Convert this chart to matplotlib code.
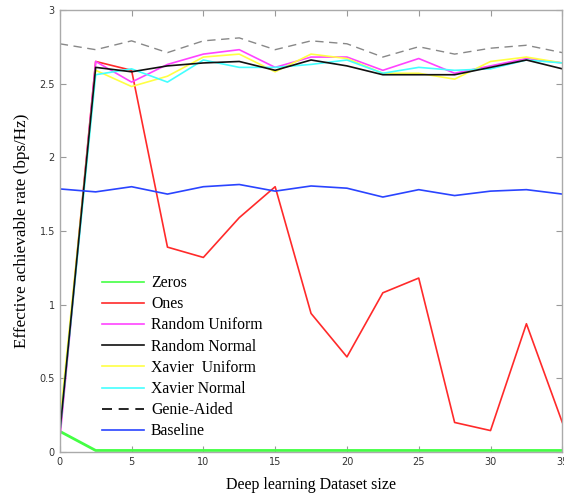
import matplotlib
matplotlib.use("Agg")
import matplotlib.pyplot as plt
import numpy as np

# dataset sizes
x = np.arange(0, 35.1, 2.5)

zeros = [0.14, 0.01, 0.01, 0.01, 0.01, 0.01, 0.01, 0.01, 0.01, 0.01, 0.01, 0.01, 0.01, 0.01, 0.01]
ones = [0.12, 2.65, 2.59, 1.39, 1.32, 1.59, 1.80, 0.94, 0.645, 1.08, 1.18, 0.20, 0.145, 0.87, 0.20]
rand_uniform = [0.08, 2.65, 2.51, 2.63, 2.70, 2.73, 2.61, 2.68, 2.68, 2.59, 2.67, 2.57, 2.62, 2.67, 2.64]
rand_normal = [0.13, 2.61, 2.58, 2.62, 2.64, 2.65, 2.59, 2.66, 2.62, 2.56, 2.56, 2.56, 2.61, 2.66, 2.60]
xav_uniform = [0.20, 2.59, 2.48, 2.55, 2.68, 2.70, 2.58, 2.70, 2.67, 2.57, 2.57, 2.53, 2.65, 2.68, 2.64]
xav_normal = [0.13, 2.56, 2.60, 2.51, 2.66, 2.61, 2.61, 2.63, 2.66, 2.57, 2.61, 2.59, 2.60, 2.66, 2.64]
genie = [2.77, 2.73, 2.79, 2.71, 2.79, 2.81, 2.73, 2.79, 2.77, 2.68, 2.75, 2.70, 2.74, 2.76, 2.71]
baseline = [1.785, 1.765, 1.80, 1.75, 1.80, 1.815, 1.77, 1.805, 1.79, 1.73, 1.78, 1.74, 1.77, 1.78, 1.75]

fig = plt.figure(figsize=(5.64, 4.95), dpi=100)
ax = fig.add_axes([0.106, 0.087, 0.891, 0.893])

lw = 1.2
ax.plot(x, zeros, color='#44ff44', lw=2.0, label='Zeros')
ax.plot(x, ones, color='#ff2a2a', lw=lw, label='Ones')
ax.plot(x, rand_uniform, color='#ff44ff', lw=lw, label='Random Uniform')
ax.plot(x, xav_uniform, color='#ffff44', lw=lw, label='Xavier  Uniform')
ax.plot(x, xav_normal, color='#44ffff', lw=lw, label='Xavier Normal')
ax.plot(x, rand_normal, color='#111111', lw=lw, label='Random Normal')
ax.plot(x, genie, color='#888888', lw=1.0, ls=(0, (6, 4)), label='Genie-Aided')
ax.plot(x, baseline, color='#2a44ff', lw=lw, label='Baseline')

ax.set_xlim(0, 35)
ax.set_ylim(0, 3)
ax.set_xticks(np.arange(0, 36, 5))
ax.set_yticks(np.arange(0, 3.01, 0.5))
ax.set_yticklabels(['0', '0.5', '1', '1.5', '2', '2.5', '3'])
ax.tick_params(direction='in', top=True, right=True, labelsize=7, colors='#999999',
               labelcolor='#333333', length=4)
for s in ax.spines.values():
    s.set_color('#aaaaaa')
    s.set_linewidth(1.0)

serif = ['Liberation Serif', 'DejaVu Serif']
ax.set_xlabel('Deep learning Dataset size', family=serif, fontsize=11.5, labelpad=7)
ax.set_ylabel('Effective achievable rate (bps/Hz)', family=serif, fontsize=12.3, labelpad=7)

# legend in the order shown
h, l = ax.get_legend_handles_labels()
order = ['Zeros', 'Ones', 'Random Uniform', 'Random Normal', 'Xavier  Uniform',
         'Xavier Normal', 'Genie-Aided', 'Baseline']
hh = [h[l.index(k)] for k in order]
leg = ax.legend(hh, order, loc='upper left', bbox_to_anchor=(0.055, 0.432),
                frameon=False, prop={'family': serif, 'size': 11.3},
                handlelength=2.7, labelspacing=0.33, handletextpad=0.45)
for line in leg.get_lines():
    line.set_linewidth(1.2)
leg.get_lines()[6].set_color('black')

fig.savefig('out.png', dpi=100)
